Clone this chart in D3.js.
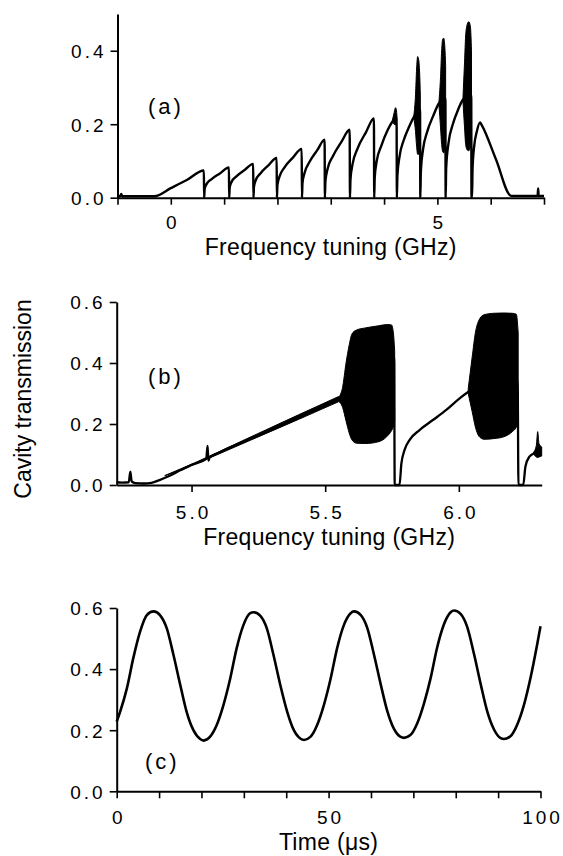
<!DOCTYPE html>
<html>
<head>
<meta charset="utf-8">
<script src="https://cdn.jsdelivr.net/npm/d3@7"></script>
<style>
  body { margin: 0; background: #fff; }
  svg { display: block; }
</style>
</head>
<body>
<svg id="chart" width="563" height="856"></svg>
<script>
// ---------- Panel (a): wide frequency sweep ----------
const freqTicksA = [-1, 0, 1, 2, 3, 4, 5, 6, 7];
const freqLabelsA = [0, 5];
const transTicksA = [0, 0.2, 0.4];
// [GHz, transmission]
const sweepA = [
  [-1, 0.004], [-0.95, 0.004], [-0.93, 0.01], [-0.91, 0.004], [-0.6, 0.004], [-0.31, 0.004],
  [0.0, 0.026], [0.3, 0.048], [0.62, 0.074], [0.625, 0.0],
  [0.635, 0.024], [0.67, 0.037], [0.76, 0.05], [0.92, 0.066], [1.09, 0.082], [1.095, 0.0],
  [1.105, 0.028], [1.14, 0.043], [1.23, 0.058], [1.39, 0.076], [1.545, 0.092], [1.55, 0.0],
  [1.56, 0.03], [1.595, 0.048], [1.68, 0.066], [1.83, 0.088], [1.985, 0.108], [1.99, 0.0],
  [2.0, 0.035], [2.04, 0.058], [2.13, 0.082], [2.29, 0.109], [2.455, 0.133], [2.46, 0.0],
  [2.47, 0.04], [2.51, 0.068], [2.6, 0.097], [2.75, 0.13], [2.885, 0.158], [2.89, 0.0],
  [2.9, 0.045], [2.94, 0.078], [3.04, 0.113], [3.2, 0.152], [3.355, 0.185], [3.36, 0.0],
  [3.37, 0.05], [3.41, 0.092], [3.5, 0.133], [3.66, 0.178], [3.81, 0.216], [3.815, 0.0],
  [3.825, 0.055], [3.86, 0.098], [3.95, 0.142], [4.07, 0.185], [4.17, 0.21], [4.235, 0.222], [4.24, 0.0],
  [4.25, 0.06], [4.29, 0.112], [4.37, 0.157], [4.47, 0.193], [4.56, 0.22], [4.675, 0.24], [4.68, 0.0],
  [4.69, 0.07], [4.73, 0.13], [4.81, 0.18], [4.92, 0.222], [5.03, 0.257], [5.15, 0.27], [5.155, 0.0],
  [5.165, 0.08], [5.21, 0.15], [5.29, 0.2], [5.39, 0.24], [5.48, 0.267], [5.635, 0.28], [5.64, 0.0],
  [5.65, 0.0], [5.66, 0.08], [5.69, 0.14], [5.74, 0.18], [5.8, 0.205], [5.83, 0.198], [6.1, 0.104],
  [6.385, 0.005], [6.88, 0.005], [6.89, 0.025], [6.9, 0.005], [7.0, 0.005]
];
// fast-oscillation envelopes: [GHz, low, high]
const burstsA = [
  [[4.16, 0.207, 0.213], [4.19, 0.2, 0.232], [4.215, 0.198, 0.245], [4.232, 0.205, 0.238], [4.24, 0.21, 0.225]],
  [[4.56, 0.215, 0.225], [4.59, 0.18, 0.28], [4.61, 0.14, 0.35], [4.63, 0.118, 0.384], [4.65, 0.118, 0.375], [4.67, 0.14, 0.33], [4.68, 0.17, 0.28]],
  [[5.03, 0.252, 0.262], [5.06, 0.19, 0.33], [5.08, 0.145, 0.4], [5.1, 0.125, 0.432], [5.12, 0.122, 0.434], [5.14, 0.135, 0.41], [5.155, 0.165, 0.36]],
  [[5.48, 0.262, 0.272], [5.51, 0.19, 0.37], [5.53, 0.145, 0.44], [5.56, 0.13, 0.472], [5.59, 0.128, 0.479], [5.62, 0.14, 0.465], [5.64, 0.18, 0.4]]
];

// ---------- Panel (b): fine frequency sweep ----------
const freqTicksB = [5.0, 5.5, 6.0];
const transTicksB = [0, 0.2, 0.4, 0.6];
const sweepB = [
  [4.72, 0.009], [4.74, 0.008], [4.765, 0.009], [4.771, 0.044], [4.776, 0.012], [4.79, 0.006],
  [4.82, 0.005], [4.85, 0.007], [4.88, 0.016], [4.91, 0.027], [4.96, 0.049], [5.0, 0.066],
  [5.055, 0.086], [5.06, 0.128], [5.063, 0.08], [5.068, 0.09], [5.1, 0.105], [5.2, 0.144],
  [5.3, 0.183], [5.4, 0.222], [5.5, 0.261], [5.55, 0.281], [5.59, 0.3], [5.758, 0.42], [5.76, 0.0],
  [5.778, 0.0], [5.785, 0.07], [5.797, 0.115], [5.816, 0.148], [5.853, 0.18], [5.903, 0.213],
  [5.953, 0.246], [6.003, 0.284], [6.04, 0.308], [6.08, 0.33], [6.22, 0.34], [6.223, 0.0],
  [6.241, 0.0], [6.249, 0.06], [6.264, 0.093], [6.282, 0.104], [6.31, 0.11]
];
// widening noise band along the slow ramp: [GHz, low, high]
const rampBandB = [[4.9, 0.03, 0.031], [5.0, 0.064, 0.068], [5.2, 0.139, 0.149], [5.4, 0.215, 0.23], [5.55, 0.273, 0.29]];
const burstsB = [
  [[5.55, 0.275, 0.287], [5.565, 0.255, 0.32], [5.578, 0.21, 0.4], [5.59, 0.17, 0.46], [5.6, 0.148, 0.495],
   [5.617, 0.137, 0.508], [5.65, 0.136, 0.515], [5.7, 0.142, 0.522], [5.73, 0.158, 0.526], [5.748, 0.178, 0.525],
   [5.755, 0.19, 0.5], [5.76, 0.21, 0.44]],
  [[6.035, 0.3, 0.315], [6.05, 0.24, 0.42], [6.062, 0.19, 0.5], [6.075, 0.16, 0.54], [6.094, 0.15, 0.558],
   [6.13, 0.152, 0.563], [6.168, 0.158, 0.564], [6.2, 0.175, 0.563], [6.215, 0.19, 0.56], [6.222, 0.22, 0.5]],
  [[6.28, 0.1, 0.108], [6.29, 0.092, 0.13], [6.295, 0.09, 0.175], [6.3, 0.092, 0.135], [6.31, 0.095, 0.125]]
];

// ---------- Panel (c): time trace ----------
const timeTicksC = [0, 10, 20, 30, 40, 50, 60, 70, 80, 90, 100];
const timeLabelsC = [0, 50, 100];
const transTicksC = [0, 0.2, 0.4, 0.6];
// [µs, transmission]
const waveC = [
  [0, 0.228], [0.8, 0.26], [2.4, 0.337], [3.9, 0.435], [5.5, 0.522], [7.1, 0.577], [8.7, 0.589],
  [10.2, 0.577], [11.8, 0.534], [13.4, 0.446], [15.0, 0.348], [16.5, 0.26], [18.1, 0.2], [19.7, 0.171],
  [20.5, 0.166], [22.0, 0.178], [23.6, 0.217], [25.2, 0.283], [26.8, 0.37], [28.3, 0.468], [29.9, 0.544],
  [31.5, 0.583], [32.3, 0.586], [33.9, 0.574], [35.4, 0.534], [37.0, 0.446], [38.6, 0.348], [40.2, 0.262],
  [41.8, 0.2], [43.4, 0.172], [44.2, 0.168], [45.7, 0.178], [47.3, 0.217], [48.9, 0.283], [50.5, 0.37],
  [52.0, 0.468], [53.6, 0.544], [55.2, 0.583], [56.0, 0.589], [57.6, 0.577], [59.1, 0.536], [60.7, 0.448],
  [62.3, 0.35], [63.8, 0.265], [65.4, 0.205], [67.0, 0.178], [67.8, 0.175], [69.3, 0.184], [70.9, 0.222],
  [72.5, 0.287], [74.1, 0.372], [75.6, 0.47], [77.2, 0.546], [78.8, 0.586], [79.6, 0.592], [81.2, 0.58],
  [82.7, 0.538], [84.3, 0.45], [85.9, 0.35], [87.4, 0.263], [89.0, 0.203], [90.6, 0.174], [91.4, 0.171],
  [92.9, 0.18], [94.5, 0.218], [96.1, 0.283], [97.7, 0.375], [99.2, 0.48], [100, 0.54]
];

// ---------- drawing ----------
const FONT = '"Liberation Sans", Arial, Helvetica, sans-serif';
const svg = d3.select("#chart");

function drawPanel(p) {
  const x = d3.scaleLinear().domain(p.xDomain).range(p.xRange);
  const y = d3.scaleLinear().domain(p.yDomain).range(p.yRange);
  const g = svg.append("g");

  const yAxis = d3.axisLeft(y).tickValues(p.yTicks).tickSize(7).tickSizeOuter(0)
    .tickFormat(d3.format(".1f"));
  const ga = g.append("g").attr("transform", `translate(${p.xRange[0]},0)`).call(yAxis);
  ga.selectAll("text").attr("x", -11).attr("dy", "0.36em");

  const xAxis = d3.axisBottom(x).tickValues(p.xTicks).tickSize(7).tickSizeOuter(0)
    .tickFormat(d => p.xLabels.includes(d) ? p.xFormat(d) : "");
  const gb = g.append("g").attr("transform", `translate(0,${p.yRange[0]})`).call(xAxis);
  gb.selectAll("text").attr("y", p.labelOffset).attr("dy", 0).attr("dx", 1.5);

  [ga, gb].forEach(ax => {
    ax.select(".domain").attr("stroke", "#000").attr("stroke-width", 2);
    ax.selectAll(".tick line").attr("stroke", "#000").attr("stroke-width", 1.6);
    ax.selectAll("text").attr("font-family", FONT).attr("font-size", 19)
      .attr("letter-spacing", 3).attr("fill", "#000");
  });

  const area = d3.area().x(d => x(d[0])).y0(d => y(d[1])).y1(d => y(d[2])).curve(d3.curveMonotoneX);
  (p.bands || []).forEach(b => {
    g.append("path").datum(b).attr("d", area).attr("fill", "#000").attr("stroke", "#000").attr("stroke-width", 1);
  });

  const line = d3.line().x(d => x(d[0])).y(d => y(d[1])).curve(d3.curveMonotoneX);
  g.append("path").datum(p.trace).attr("d", line).attr("fill", "none")
    .attr("stroke", "#000").attr("stroke-width", p.lineWidth).attr("stroke-linejoin", "round");

  g.append("text").attr("x", p.tag[1]).attr("y", p.tag[2]).text(p.tag[0])
    .attr("font-family", FONT).attr("font-size", 22).attr("letter-spacing", 3);

  g.append("text").attr("x", (p.xRange[0] + p.xRange[1]) / 2).attr("y", p.titleY)
    .attr("text-anchor", "middle").text(p.title)
    .attr("font-family", FONT).attr("font-size", 23).attr("letter-spacing", 0.3);
}

drawPanel({
  xDomain: [-1, 7], xRange: [117.5, 544], yDomain: [0, 0.5], yRange: [197.7, 14],
  xTicks: freqTicksA, xLabels: freqLabelsA, xFormat: d3.format("d"), yTicks: transTicksA,
  trace: sweepA, bands: burstsA, lineWidth: 2.4,
  tag: ["(a)", 148, 113.5], title: "Frequency tuning (GHz)", titleY: 254.5, labelOffset: 31
});

drawPanel({
  xDomain: [4.72, 6.31], xRange: [116.7, 541.7], yDomain: [0, 0.6], yRange: [485, 302],
  xTicks: freqTicksB, xLabels: freqTicksB, xFormat: d3.format(".1f"), yTicks: transTicksB,
  trace: sweepB, bands: [rampBandB].concat(burstsB), lineWidth: 2.3,
  tag: ["(b)", 148, 384], title: "Frequency tuning (GHz)", titleY: 544.5, labelOffset: 34
});

drawPanel({
  xDomain: [0, 100], xRange: [116.7, 540.5], yDomain: [0, 0.6], yRange: [791.3, 608],
  xTicks: timeTicksC, xLabels: timeLabelsC, xFormat: d3.format("d"), yTicks: transTicksC,
  trace: waveC, bands: [], lineWidth: 2.6,
  tag: ["(c)", 145, 769], title: "Time (\u03bcs)", titleY: 849.5, labelOffset: 33
});

// shared y-axis title
svg.append("text").attr("transform", "translate(31,399) rotate(-90)")
  .attr("text-anchor", "middle").text("Cavity transmission")
  .attr("font-family", FONT).attr("font-size", 23).attr("fill", "#000");
</script>
</body>
</html>
